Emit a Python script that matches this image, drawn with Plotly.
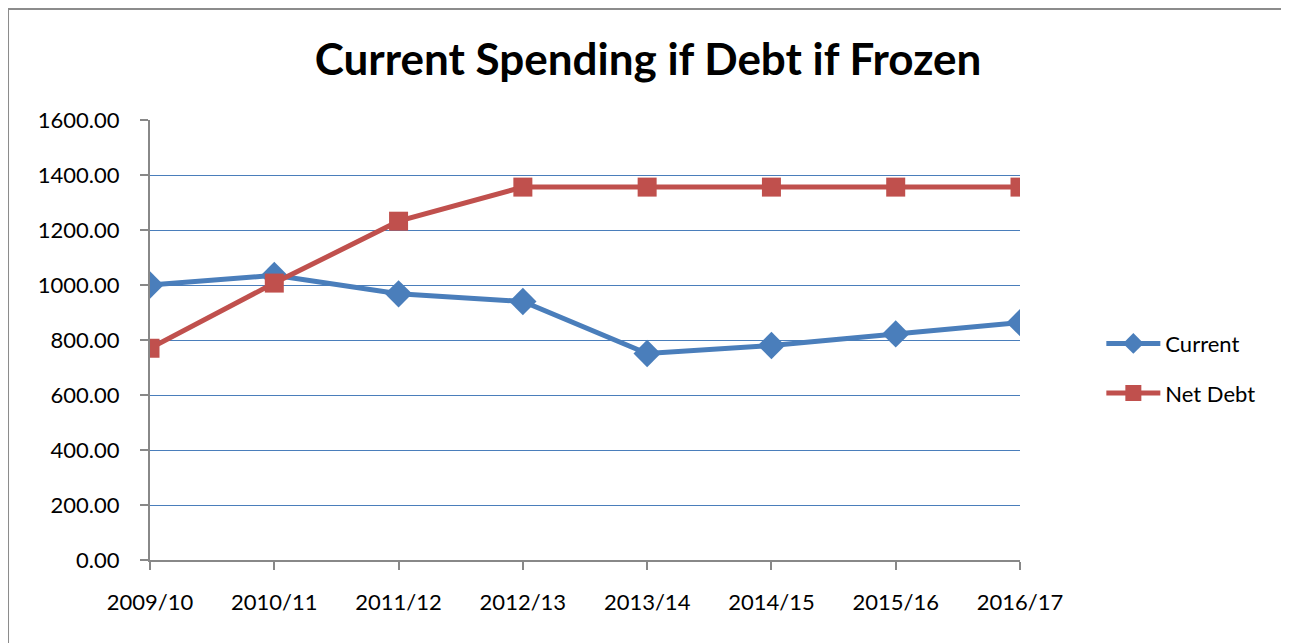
import plotly.graph_objects as go

years = ["2009/10", "2010/11", "2011/12", "2012/13", "2013/14", "2014/15", "2015/16", "2016/17"]
current = [1000, 1035, 968, 940, 751, 780, 822, 863]
net_debt = [770, 1007, 1232, 1356, 1356, 1356, 1356, 1356]

y_ticks = [0, 200, 400, 600, 800, 1000, 1200, 1400, 1600]

blue = "#4a7ebb"
red = "#c0504d"
font = "Lato"

fig = go.Figure()
fig.add_trace(go.Scatter(
    x=years, y=current, name="Current", mode="lines+markers",
    line=dict(color=blue, width=5),
    marker=dict(symbol="diamond", size=21, color=blue),
    legendgroup="a",
))
fig.add_trace(go.Scatter(
    x=years, y=net_debt, name="Net Debt", mode="lines+markers",
    line=dict(color=red, width=5),
    marker=dict(symbol="square", size=19, color=red),
    legendgroup="b",
))

# page body has an 8px margin: shrink the figure by 8px and offset margins so the
# plot area lands at 150..1020 / 120..560 on screen
fig.update_layout(
    width=1281, height=635,
    margin=dict(l=142, r=269, t=112, b=83),
    paper_bgcolor="white", plot_bgcolor="white",
    font=dict(family=font, size=22, color="black"),
    title=dict(text="<b>Current Spending if Debt if Frozen</b>",
               x=0.5724, xanchor="center", xref="paper",
               y=1.0, yanchor="top", yref="container", pad=dict(t=36),
               font=dict(family=font, size=44, color="black")),
    legend=dict(x=1.0935, xanchor="left", y=0.435, yanchor="middle",
                font=dict(size=22), tracegroupgap=18, itemwidth=54,
                bgcolor="rgba(0,0,0,0)"),
)

fig.update_xaxes(
    type="category", range=[0, 7],
    showgrid=False, showline=True, linecolor="#888888", linewidth=2,
    ticks="outside", ticklen=8, tickcolor="#888888", tickwidth=1.5,
    ticklabelstandoff=14, zeroline=False,
)
fig.update_yaxes(
    range=[0, 1600], tickvals=y_ticks, tickformat=".2f",
    showgrid=True, gridcolor=blue, gridwidth=1,
    showline=True, linecolor="#888888", linewidth=2,
    ticks="outside", ticklen=8, tickcolor="#888888", tickwidth=1.5,
    ticklabelstandoff=16, zeroline=False,
)

# outer chart border (left, top, right)
fig.add_shape(type="line", xref="paper", yref="paper",
              x0=-0.1632, x1=-0.1632, y0=-0.25, y1=1.252,
              line=dict(color="#8c8c8c", width=2))
fig.add_shape(type="line", xref="paper", yref="paper",
              x0=-0.1632, x1=1.307, y0=1.252, y1=1.252,
              line=dict(color="#8c8c8c", width=2))
fig.add_shape(type="line", xref="paper", yref="paper",
              x0=1.307, x1=1.307, y0=-0.25, y1=1.252,
              line=dict(color="#cccccc", width=1))

fig.write_html("out.html")
